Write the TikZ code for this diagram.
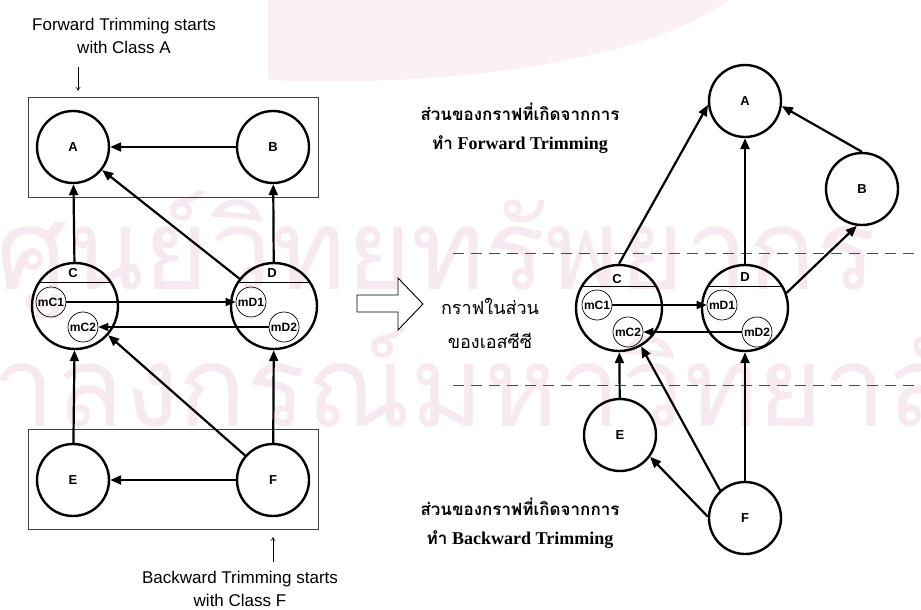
\documentclass[tikz,border=0pt]{standalone}
\usepackage{fontspec}
\setmainfont{Liberation Sans}
\newfontfamily\thaifont[Script=Thai]{Loma}
\newfontfamily\timesfont{Liberation Serif}
\usetikzlibrary{arrows.meta}

\definecolor{wmark}{RGB}{246,233,241}
\definecolor{wtop}{RGB}{250,240,245}

\begin{document}
\begin{tikzpicture}[x=1pt,y=-1pt,
  cls/.style={circle,draw,line width=2.4pt,minimum size=72pt,inner sep=0pt,
    font=\bfseries\fontsize{13}{13}\selectfont},
  grp/.style={circle,draw,line width=2.4pt,minimum size=86pt,inner sep=0pt},
  glabel/.style={font=\bfseries\fontsize{13}{13}\selectfont,inner sep=0pt},
  meth/.style={circle,draw,line width=0.7pt,minimum size=30pt,inner sep=0pt,
    font=\bfseries\fontsize{12}{12}\selectfont},
  link/.style={line width=2.2pt,-{Triangle[length=11pt,width=9pt]}},
  mlink/.style={line width=1.8pt,-{Triangle[length=10pt,width=8pt]}},
  chord/.style={line width=0.7pt},
  frame/.style={draw=black!75,line width=0.8pt},
  note/.style={font=\fontsize{17}{23}\selectfont,align=center},
  pointer/.style={line width=0.6pt,-{To[length=4pt,width=5pt]}},
  thainote/.style={align=center,font=\fontsize{17}{29}\selectfont},
  zone/.style={dashed,dash pattern=on 11pt off 7pt,line width=0.8pt,draw=black!70},
  hollow/.style={draw,line width=0.9pt,fill=white},
  wm/.style={wmark,anchor=west,inner sep=0pt,font=\thaifont\fontsize{112}{112}\selectfont},
]
\useasboundingbox (0,0) rectangle (921,610);

% faint background watermark
\begin{scope}
  \clip (0,0) rectangle (921,610);
  \fill[wtop] (268,0) -- (268,80) .. controls (450,88) and (650,60) .. (728,0) -- cycle;
  \node[wm] (wm1) at (-4,255) {ศูนย์วิทยทรัพยากร};
  \node[wm] (wm2) at (-150,392) {จุฬาลงกรณ์มหาวิทยาลัย};
\end{scope}

% ---------- left graph ----------
\draw[frame] (28,97) rectangle (318,197);
\draw[frame] (28,429) rectangle (318,529);

\node[cls] (A) at (73,147) {A};
\node[cls] (B) at (273,147) {B};
\node[cls] (E) at (73,480) {E};
\node[cls] (F) at (273,480) {F};
\node[grp] (C) at (75,306) {};
\node[grp] (D) at (274,306) {};
\node[glabel] (Cl) at (73,273) {C};
\node[glabel] (Dl) at (272,273) {D};
\draw[chord] (C.147) -- (C.33);
\draw[chord] (D.147) -- (D.33);
\node[meth] (mC1) at (51,302) {mC1};
\node[meth] (mC2) at (83,327) {mC2};
\node[meth] (mD1) at (251,302) {mD1};
\node[meth] (mD2) at (284,327) {mD2};

\draw[link] (B) -- (A);
\draw[link] (C) -- (A);
\draw[link] (D) -- (A);
\draw[link] (D) -- (B);
\draw[link] (E) -- (C);
\draw[link] (F) -- (C);
\draw[link] (F) -- (D);
\draw[link] (F) -- (E);
\draw[mlink] (mC1) -- (mD1);
\draw[mlink] (mD2) -- (mC2);

\node[note] (ftxt) at (124,36) {Forward Trimming starts\\with Class A};
\coordinate (fp1) at (78,67);
\coordinate (fp2) at (78,91);
\draw[pointer] (fp1) -- (fp2);
\node[note] (btxt) at (240,589) {Backward Trimming starts\\with Class F};
\coordinate (bp1) at (273,562);
\coordinate (bp2) at (273,537);
\draw[pointer] (bp1) -- (bp2);

% ---------- transition arrow ----------
\draw[hollow] (357,295) -- (398,295) -- (398,278) -- (423,304) -- (398,330)
  -- (398,312) -- (357,312) -- cycle;
\node[thainote,font=\thaifont\fontsize{18}{34}\selectfont] (mid) at (490,323) {กราฟในส่วน\\ของเอสซีซี};

% ---------- right graph ----------
\coordinate (z1a) at (453,253);
\coordinate (z1b) at (921,253);
\coordinate (z2a) at (453,385);
\coordinate (z2b) at (921,385);
\draw[zone] (z1a) -- (z1b);
\draw[zone] (z2a) -- (z2b);

\node[thainote] (fwd) at (520,128) {{\thaifont\bfseries ส่วนของกราฟที่เกิดจากการ}\\{\thaifont\bfseries ทำ} {\timesfont\bfseries\fontsize{18}{29}\selectfont Forward Trimming}};
\node[thainote] (bwd) at (520,523) {{\thaifont\bfseries ส่วนของกราฟที่เกิดจากการ}\\{\thaifont\bfseries ทำ} {\timesfont\bfseries\fontsize{18}{29}\selectfont Backward Trimming}};

\node[cls] (rA) at (745,101) {A};
\node[cls] (rB) at (862,189) {B};
\node[cls] (rE) at (620,435) {E};
\node[cls] (rF) at (745,518) {F};
\node[grp] (rC) at (619,308) {};
\node[grp] (rD) at (745,308) {};
\node[glabel] (rCl) at (617,279) {C};
\node[glabel] (rDl) at (745,277) {D};
\draw[chord] (rC.150) -- (rC.30);
\draw[chord] (rD.150) -- (rD.30);
\node[meth] (rmC1) at (597,305) {mC1};
\node[meth] (rmC2) at (628,332) {mC2};
\node[meth] (rmD1) at (722,305) {mD1};
\node[meth] (rmD2) at (757,332) {mD2};

\draw[link] (rC.north) -- (rA.186);
\draw[link] (rD) -- (rA);
\draw[link] (rD.20) -- (rB.262);
\draw[link] (rB.north) -- (rA.-8);
\draw[link] (rE) -- (rC);
\draw[link] (rF.132) -- (rC.-60);
\draw[link] (rF) -- (rD);
\draw[link] (rF.178) -- (rE.-36);
\draw[mlink] (rmC1) -- (rmD1);
\draw[mlink] (rmD2) -- (rmC2);
\end{tikzpicture}
\end{document}
